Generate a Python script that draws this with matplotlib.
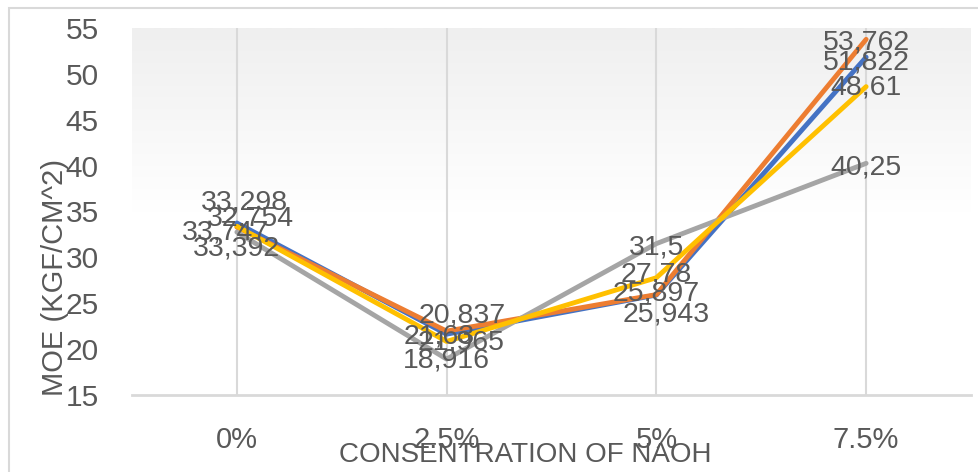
import matplotlib
matplotlib.use("Agg")
import matplotlib.pyplot as plt
import numpy as np
from matplotlib.patches import Rectangle

# data
categories = ['0%', '2.5%', '5%', '7.5%']
blue_vals = [33.747, 21.63, 25.897, 51.822]
orange_vals = [33.298, 21.965, 25.943, 53.762]
gray_vals = [32.754, 18.916, 31.5, 40.25]
yellow_vals = [33.392, 20.837, 27.78, 48.61]
yticks = [15, 20, 25, 30, 35, 40, 45, 50, 55]

text_color = '#595959'
narrow = ['Liberation Sans Narrow', 'Liberation Sans', 'DejaVu Sans']
regular = ['Liberation Sans', 'DejaVu Sans']

series = [
    (blue_vals, '#4472C4', [(-11, -10), (-7, -2), (0, 2), (0, -5)]),
    (orange_vals, '#ED7D31', [(8, 25), (15, -11), (10, -20), (0, -3)]),
    (gray_vals, '#A5A5A5', [(14, 14), (0, -1), (0, -4), (0, -4)]),
    (yellow_vals, '#FFC000', [(0, -22), (16, 26), (0, 3), (0, -1)]),
]

fig = plt.figure(figsize=(9.79, 4.72), dpi=100)
ax = fig.add_axes([132/979, 1-395/472, (971-132)/979, (395-28)/472])

# chart border
fig.patches.append(Rectangle((9/979, -0.1), 2, 1.1 - 8/472, transform=fig.transFigure,
                             fill=False, edgecolor='#d9d9d9', linewidth=1.5))

# plot area gradient
grad = np.linspace(0, 1, 256).reshape(-1, 1)
cmap = matplotlib.colors.LinearSegmentedColormap.from_list('g', ['#ffffff', '#ffffff', '#efefef'])
ax.imshow(grad, cmap=cmap, aspect='auto', extent=[0, 1, 1, 0], transform=ax.transAxes, zorder=0)

x = np.arange(len(categories))
for xi in x:
    ax.axvline(xi, color='#d9d9d9', lw=1.5, zorder=1)

for vals, col, offs in series:
    ax.plot(x, vals, color=col, lw=3.5, solid_capstyle='round', zorder=3)

for vals, col, offs in series:
    for xi, v, (dx, dy) in zip(x, vals, offs):
        ax.annotate(f'{v:g}'.replace('.', ','), (xi, v), xytext=(dx, dy),
                    textcoords='offset pixels', ha='center', va='center',
                    fontsize=20.5, color=text_color, family=regular, zorder=5)

ax.set_xlim(-0.5, 3.5)
ax.set_ylim(15, 55)
ax.set_xticks(x)
ax.set_xticklabels(categories)
ax.set_yticks(yticks)
for s in ['top', 'right', 'left']:
    ax.spines[s].set_visible(False)
ax.spines['bottom'].set_color('#d9d9d9')
ax.spines['bottom'].set_linewidth(2)
ax.tick_params(length=0, colors=text_color)
ax.tick_params(axis='y', pad=24)
ax.tick_params(axis='x', pad=22)
for t in ax.get_yticklabels():
    t.set_family(narrow)
    t.set_fontsize(21.5)
for t in ax.get_xticklabels():
    t.set_family(narrow)
    t.set_fontsize(21)

fig.text(55/979, 1-277/472, 'MOE (KGF/CM^2)', rotation=90, ha='center', va='center',
         fontsize=21, color=text_color, family=regular)
fig.text(525/979, 1-455/472, 'CONSENTRATION OF NAOH', ha='center', va='center',
         fontsize=20, color=text_color, family=narrow)

plt.savefig('out.png', dpi=100)
